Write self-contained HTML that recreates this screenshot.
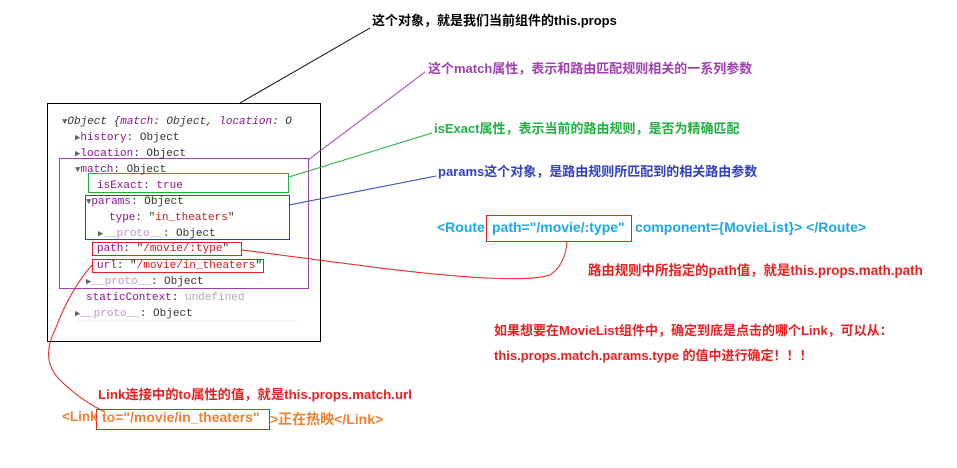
<!DOCTYPE html>
<html><head><meta charset="utf-8"><style>
body{margin:0;width:957px;height:468px;background:#fff;position:relative;overflow:hidden;font-family:"Liberation Sans","Noto Sans CJK SC",sans-serif}
.t{position:absolute;white-space:nowrap;font-weight:bold;font-size:13px}
.c{position:absolute;white-space:nowrap;font-family:"Liberation Mono","DejaVu Sans Mono",monospace;font-size:11px;color:#333;line-height:16px}
.k{color:#881391}.s{color:#c41a16}.g{color:#aaa}.p{color:#c88fd0}.ar{color:#666;font-size:9px}
</style></head><body>
<svg width="957" height="468" style="position:absolute;left:0;top:0">
<rect x="47.5" y="103.5" width="273" height="238" fill="none" stroke="#000"/>
<line x1="76" y1="321" x2="298" y2="321" stroke="#eee"/>
<line x1="240" y1="103" x2="370" y2="28" stroke="#000"/>
<rect x="59.5" y="158.5" width="249" height="130" fill="none" stroke="#a040b0"/>
<line x1="308" y1="160" x2="425" y2="72" stroke="#a040b0"/>
<rect x="88.5" y="173.5" width="200" height="19" fill="none" stroke="#20b040"/>
<line x1="289" y1="177" x2="432" y2="133" stroke="#20b040"/>
<rect x="85.5" y="195.5" width="204" height="44" fill="none" stroke="#3040c0"/>
<line x1="289" y1="205" x2="436" y2="176" stroke="#3040c0"/>
<rect x="92.5" y="242.5" width="149" height="13" fill="none" stroke="#e82020"/>
<rect x="92.5" y="259.5" width="171" height="13" fill="none" stroke="#e82020"/>
<rect x="486.5" y="215.5" width="145" height="26" fill="none" stroke="#e82020"/>
<rect x="96.5" y="409.5" width="173" height="20" fill="none" stroke="#e82020"/>
<path d="M242 250 L380 268 Q520 285 550 275 Q565 265 567 242" fill="none" stroke="#e82020"/>
<path d="M92 265 Q70 290 55 330 Q40 360 60 380 Q80 400 105 412" fill="none" stroke="#e82020"/>
</svg>
<div class="t" style="left:372px;top:10px;color:#000">这个对象，就是我们当前组件的this.props</div>
<div class="t" style="left:428px;top:58px;color:#a040b0">这个match属性，表示和路由匹配规则相关的一系列参数</div>
<div class="t" style="left:434px;top:118px;color:#20b040">isExact属性，表示当前的路由规则，是否为精确匹配</div>
<div class="t" style="left:438px;top:161px;color:#3040c0">params这个对象，是路由规则所匹配到的相关路由参数</div>
<div class="t" style="left:437px;top:219px;color:#1ca8e6;font-size:14px">&lt;Route</div>
<div class="t" style="left:492px;top:219px;color:#1ca8e6;font-size:14px">path="/movie/:type"</div>
<div class="t" style="left:635px;top:219px;color:#1ca8e6;font-size:14px">component={MovieList}&gt; &lt;/Route&gt;</div>
<div class="t" style="left:588px;top:259px;color:#e82020;font-size:13.4px">路由规则中所指定的path值，就是this.props.math.path</div>
<div class="t" style="left:494px;top:320px;color:#e82020">如果想要在MovieList组件中，确定到底是点击的哪个Link，可以从：</div>
<div class="t" style="left:494px;top:345px;color:#e82020">this.props.match.params.type 的值中进行确定！！！</div>
<div class="t" style="left:98px;top:384px;color:#e82020;font-size:13.3px">Link连接中的to属性的值，就是this.props.match.url</div>
<div class="t" style="left:62px;top:409px;color:#f08030;font-size:13.5px">&lt;Link</div>
<div class="t" style="left:102px;top:409px;color:#f08030;font-size:14px">to="/movie/in_theaters"</div>
<div class="t" style="left:270px;top:409px;color:#f08030;font-size:14px">&gt;正在热映&lt;/Link&gt;</div>
<div class="c" style="left:62px;top:114px"><span class="ar">▼</span><i>Object {<span class="k">match</span>: Object, <span class="k">location</span>: O</i></div>
<div class="c" style="left:75px;top:130px"><span class="ar">▶</span><span class="k">history</span>: Object</div>
<div class="c" style="left:75px;top:146px"><span class="ar">▶</span><span class="k">location</span>: Object</div>
<div class="c" style="left:75px;top:162px"><span class="ar">▼</span><span class="k">match</span>: Object</div>
<div class="c" style="left:97px;top:178px"><span class="k">isExact</span>: <span class="k">true</span></div>
<div class="c" style="left:86px;top:194px"><span class="ar">▼</span><span class="k">params</span>: Object</div>
<div class="c" style="left:109px;top:210px"><span class="k">type</span>: "<span class="s">in_theaters</span>"</div>
<div class="c" style="left:98px;top:226px"><span class="ar">▶</span><span class="p">__proto__</span>: Object</div>
<div class="c" style="left:97px;top:241px"><span class="k">path</span>: "<span class="s">/movie/:type</span>"</div>
<div class="c" style="left:97px;top:258px"><span class="k">url</span>: "<span class="s">/movie/in_theaters</span>"</div>
<div class="c" style="left:86px;top:274px"><span class="ar">▶</span><span class="p">__proto__</span>: Object</div>
<div class="c" style="left:86px;top:290px"><span class="k">staticContext</span>: <span class="g">undefined</span></div>
<div class="c" style="left:75px;top:306px"><span class="ar">▶</span><span class="p">__proto__</span>: Object</div>
</body></html>
